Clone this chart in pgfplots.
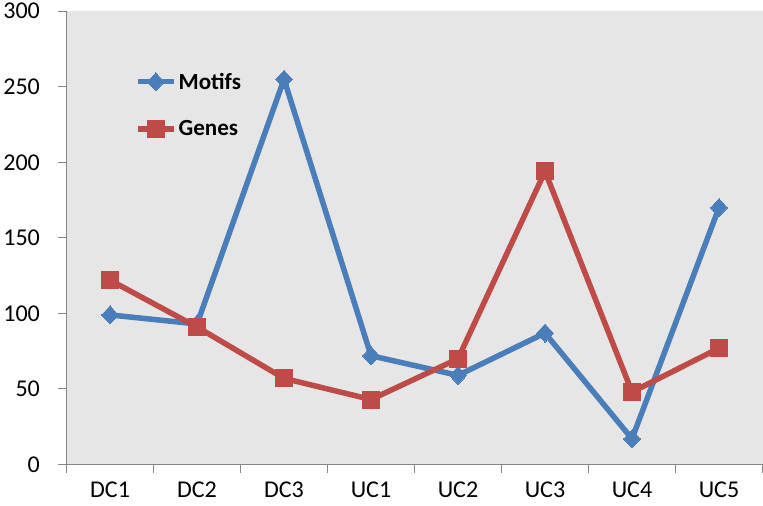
\documentclass[border=0pt]{standalone}
\usepackage{pgfplots}
\pgfplotsset{compat=1.18}
\usepackage{fontspec}
\setmainfont{Carlito}
\definecolor{cMotif}{HTML}{4A7EBB}
\definecolor{cGene}{HTML}{BE4B48}
\definecolor{cBack}{HTML}{E6E6E6}
\definecolor{cAxis}{HTML}{868686}

\begin{document}
\begin{tikzpicture}
\begin{axis}[
  scale only axis,
  width  = 694pt,
  height = 452pt,
  xmin = -0.5, xmax = 7.5,
  ymin = 0,    ymax = 300,
  clip = false,
  axis background/.style = {fill=cBack},
  axis x line* = bottom,
  axis y line* = left,
  axis line style = {cAxis, line width=1pt},
  xtick = {0,...,7},
  xticklabels = {DC1, DC2, DC3, UC1, UC2, UC3, UC4, UC5},
  major x tick style = {draw=none},
  minor xtick = {-0.5,0.5,...,7.5},
  minor x tick style = {cAxis, line width=1pt},
  minor tick length = 8pt,
  ytick = {0,50,...,300},
  y tick style = {cAxis, line width=1pt},
  major tick length = 9pt,
  tick align = outside,
  /pgf/number format/assume math mode = true,
  tick label style = {font=\fontsize{24}{26}\selectfont, text=black},
  yticklabel style = {xshift=-14pt},
  xticklabel style = {yshift=-5pt},
  legend style = {
    draw = none, fill = none,
    at = {(axis cs:0.25,262)}, anchor = north west,
    font = \fontsize{23}{26}\selectfont\bfseries,
    row sep = 26pt,
  },
  legend cell align = left,
  legend image code/.code = {
    \draw[#1] (0pt,0pt) -- (36pt,0pt);
    \path[#1, line width=0pt] plot coordinates {(18pt,0pt)};
  },
]

% Motifs
\addplot[
  color = cMotif, line width = 5.5pt,
  mark = diamond*, mark size = 9pt,
  mark options = {line width=0pt, xscale=1.25},
] coordinates {
  (0,99)(1,93)(2,255)(3,72)(4,59)(5,87)(6,17)(7,170)
};
\addlegendentry{Motifs}

% Genes
\addplot[
  color = cGene, line width = 5.5pt,
  mark = square*, mark size = 8.5pt,
  mark options = {line width=0pt},
] coordinates {
  (0,122)(1,91)(2,57)(3,43)(4,70)(5,194)(6,48)(7,77)
};
\addlegendentry{Genes}

% a little room below the category labels
\path (rel axis cs:0,0) ++(0pt,-41pt) coordinate (bottomroom);
\path (bottomroom) -- ++(1pt,0pt);

\end{axis}
\end{tikzpicture}
\end{document}
